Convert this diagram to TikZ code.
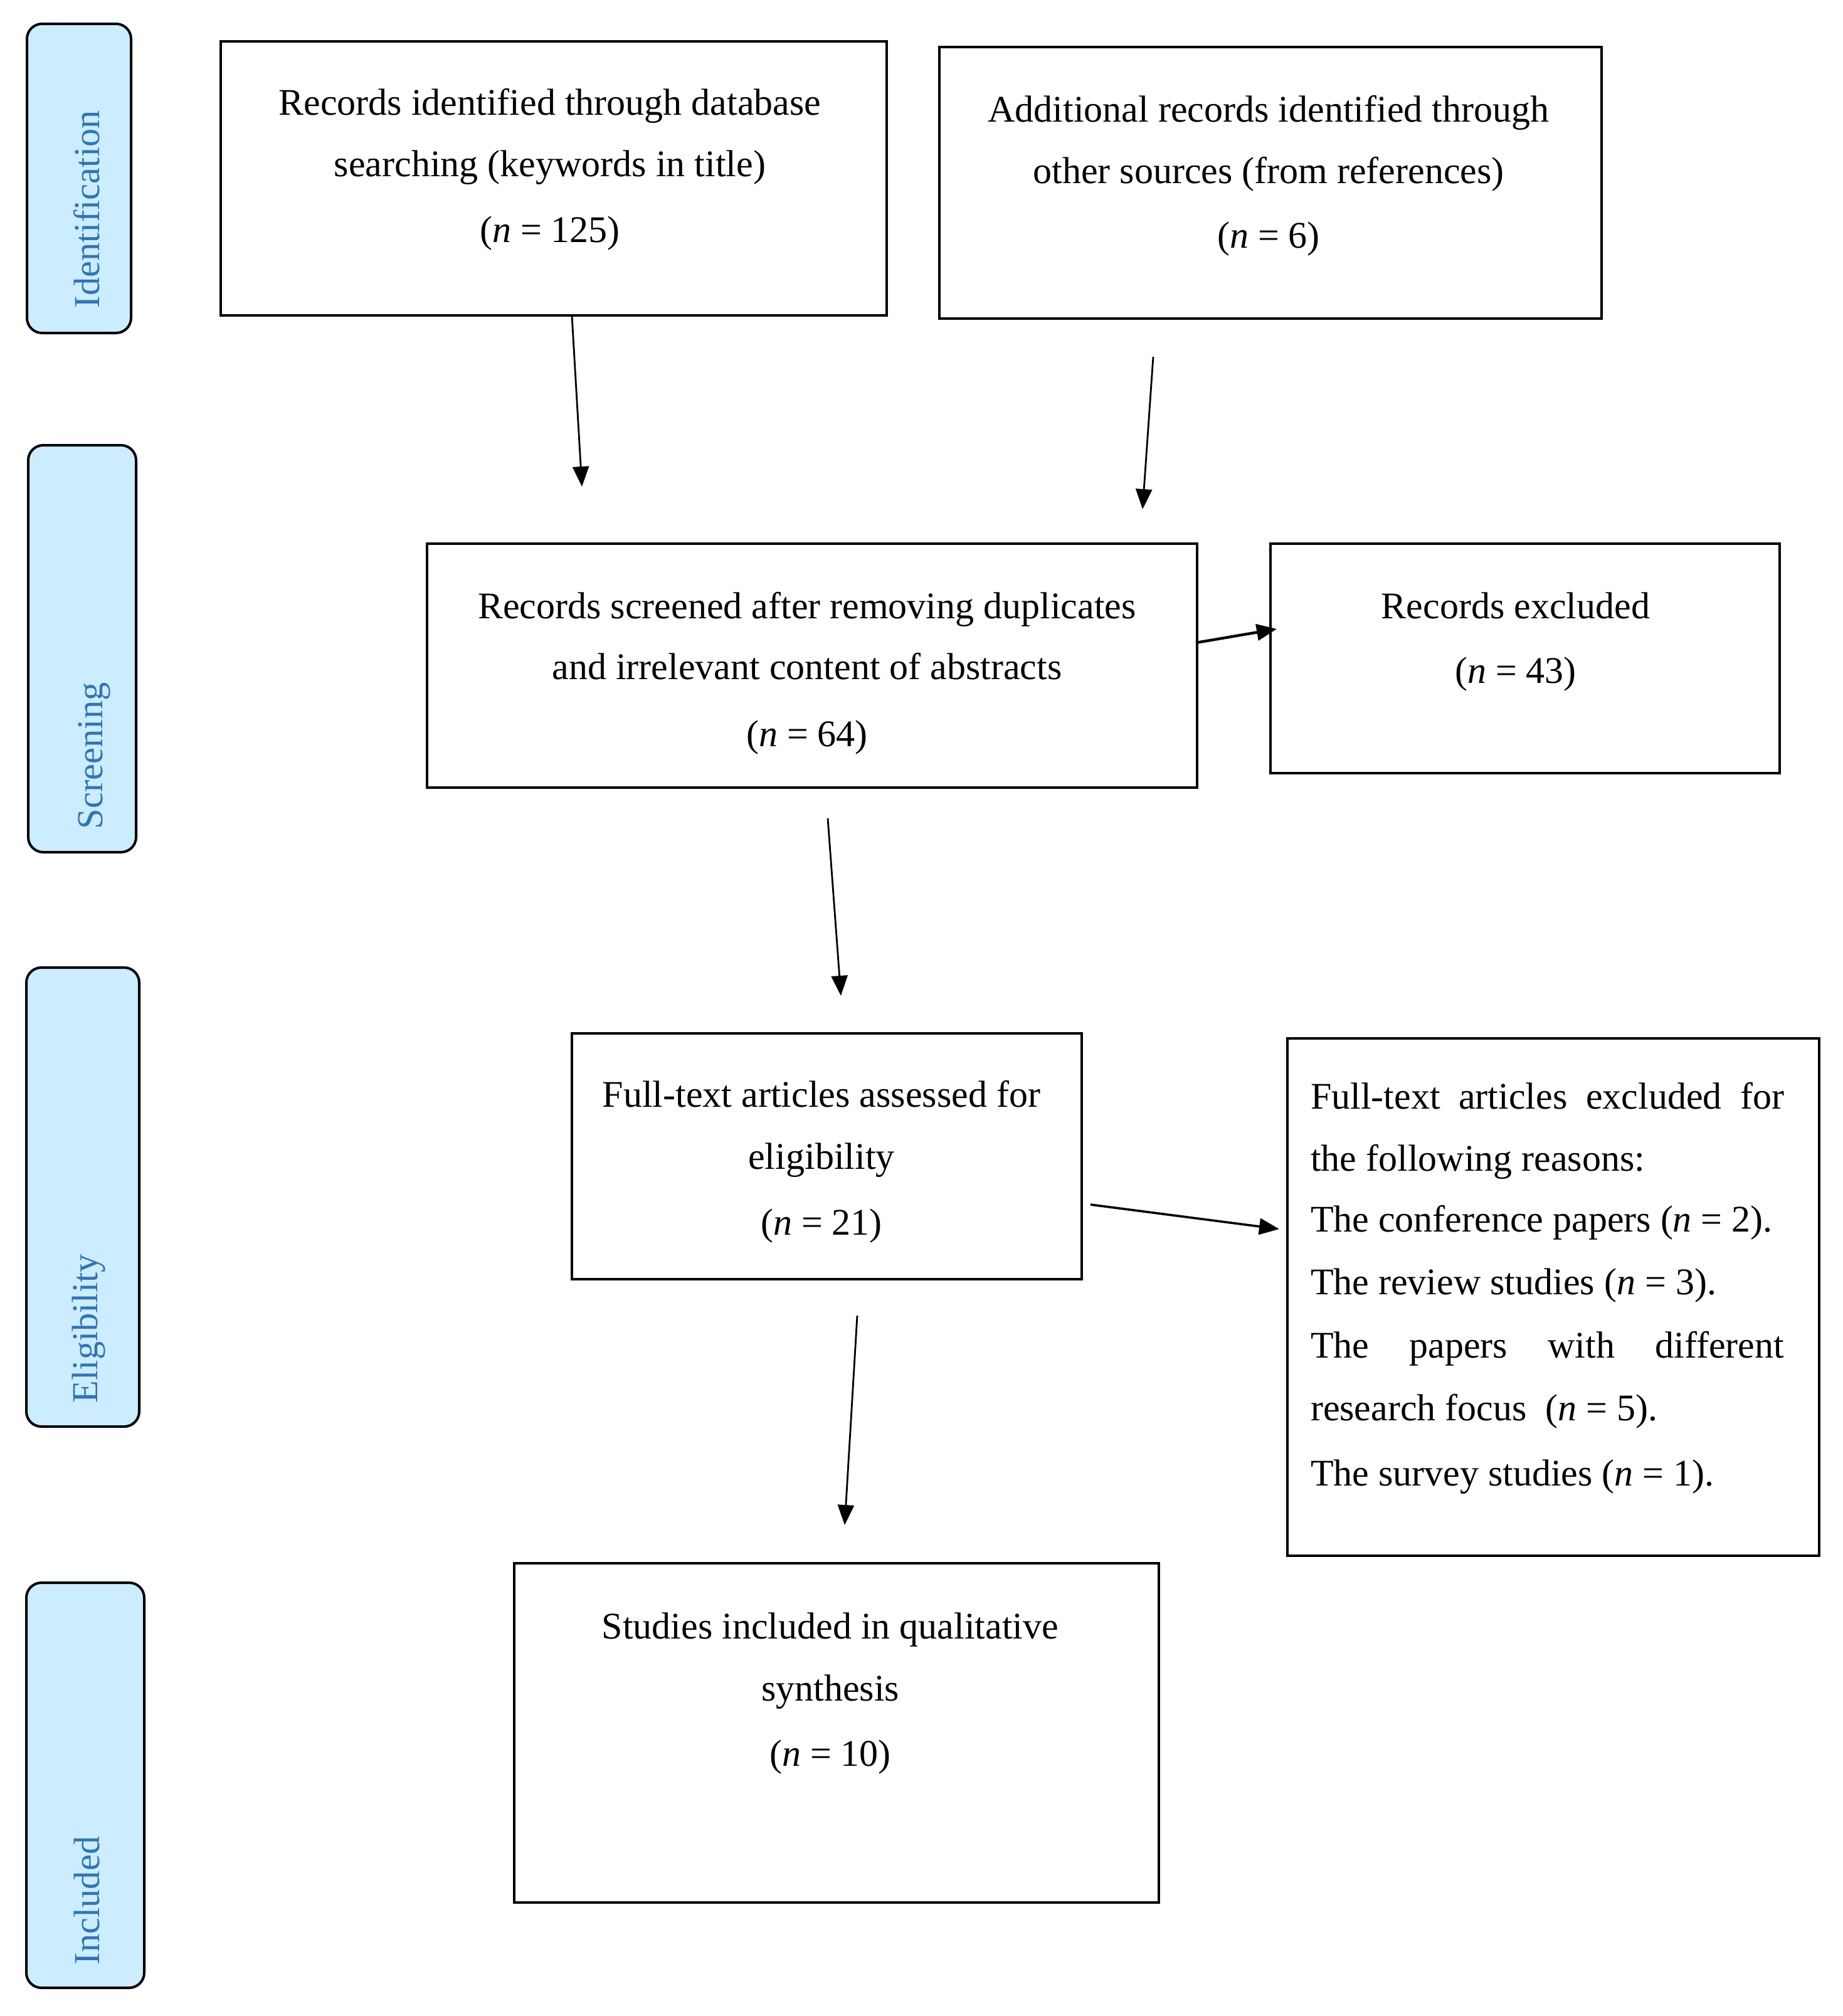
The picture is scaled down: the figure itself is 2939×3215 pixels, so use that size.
\documentclass[tikz,border=0pt]{standalone}
\usepackage{fontspec}
\setmainfont{Liberation Serif}
\usetikzlibrary{fit,arrows.meta}
\definecolor{tabfill}{HTML}{CCECFF}
\definecolor{tabtext}{HTML}{2E75B6}
\tikzset{
  box/.style={draw=black, line width=0.95pt, inner sep=0pt, outer sep=0pt},
  tab/.style={draw=black, fill=tabfill, line width=1pt, rounded corners=6pt, inner sep=0pt, outer sep=0pt},
  txt/.style={inner sep=0pt, outer sep=0pt, font=\fontsize{15}{18}\selectfont, anchor=base},
  ltxt/.style={txt, anchor=base west},
  tabtxt/.style={inner sep=0pt, outer sep=0pt, font=\fontsize{14.6}{17}\selectfont, text=tabtext, rotate=90, anchor=base west},
  arr/.style={line width=0.7pt, -{Triangle[length=8pt,width=6.5pt]}}
}
\newcommand{\nn}{\textit{n}}
\begin{document}
\begin{tikzpicture}[x=0.25pt,y=-0.25pt]
\useasboundingbox (0,0) rectangle (2939,3215);

% stage tabs
\node[tab, fit={(43,38) (209,531)}] (t1) {};
\node[tab, fit={(45,710) (217,1359)}] (t2) {};
\node[tab, fit={(42,1543) (222,2275)}] (t3) {};
\node[tab, fit={(42,2524) (230,3170)}] (t4) {};
\node[tabtxt] (t1l) at (158,491) {Identification};
\node[tabtxt] (t2l) at (163,1322) {Screening};
\node[tabtxt] (t3l) at (155,2237) {Eligibility};
\node[tabtxt] (t4l) at (158,3133) {Included};

% boxes
\node[box, fit={(352,66) (1414,503)}] (b1) {};
\node[box, fit={(1498,75) (2554,508)}] (b2) {};
\node[box, fit={(681,867) (1909,1256)}] (b3) {};
\node[box, fit={(2026,867) (2838,1233)}] (b4) {};
\node[box, fit={(912,1648) (1725,2040)}] (b5) {};
\node[box, fit={(2053,1656) (2901,2481)}] (b6) {};
\node[box, fit={(820,2493) (1848,3034)}] (b7) {};

% box texts
\node[txt] (b1a) at (877,183) {Records identified through database};
\node[txt] (b1b) at (877,281) {searching (keywords in title)};
\node[txt] (b1c) at (877,386) {(\nn{} = 125)};

\node[txt] (b2a) at (2023,194) {Additional records identified through};
\node[txt] (b2b) at (2023,292) {other sources (from references)};
\node[txt] (b2c) at (2023,395) {(\nn{} = 6)};

\node[txt] (b3a) at (1287,986) {Records screened after removing duplicates};
\node[txt] (b3b) at (1287,1083) {and irrelevant content of abstracts};
\node[txt] (b3c) at (1287,1190) {(\nn{} = 64)};

\node[txt] (b4a) at (2417,986) {Records excluded};
\node[txt] (b4b) at (2417,1089) {(\nn{} = 43)};

\node[txt] (b5a) at (1310,1765) {Full-text articles assessed for};
\node[txt] (b5b) at (1310,1864) {eligibility};
\node[txt] (b5c) at (1310,1969) {(\nn{} = 21)};

\node[ltxt] (b6a) at (2090,1768) {\makebox[188.75pt][s]{Full-text articles excluded for}};
\node[ltxt] (b6b) at (2090,1867) {the following reasons:};
\node[ltxt] (b6c) at (2090,1964) {The conference papers (\nn{} = 2).};
\node[ltxt] (b6d) at (2090,2064) {The review studies (\nn{} = 3).};
\node[ltxt] (b6e) at (2090,2165) {\makebox[188.75pt][s]{The papers with different}};
\node[ltxt] (b6f) at (2090,2265) {research focus~ (\nn{} = 5).};
\node[ltxt] (b6g) at (2090,2369) {The survey studies (\nn{} = 1).};

\node[txt] (b7a) at (1324,2613) {Studies included in qualitative};
\node[txt] (b7b) at (1324,2712) {synthesis};
\node[txt] (b7c) at (1324,2816) {(\nn{} = 10)};

% arrow end points
\coordinate (a1s) at (912,503);
\coordinate (a1e) at (928,776);
\coordinate (a2s) at (1839,569);
\coordinate (a2e) at (1822,812);
\coordinate (a3s) at (1907,1025);
\coordinate (a3e) at (2036,1003);
\coordinate (a4s) at (1320,1305);
\coordinate (a4e) at (1341,1588);
\coordinate (a5s) at (1739,1921);
\coordinate (a5e) at (2040,1960);
\coordinate (a6s) at (1367,2098);
\coordinate (a6e) at (1347,2432);

\draw[arr] (a1s) -- (a1e);
\draw[arr] (a2s) -- (a2e);
\draw[arr, line width=1.1pt] (a3s) -- (a3e);
\draw[arr] (a4s) -- (a4e);
\draw[arr, line width=0.9pt] (a5s) -- (a5e);
\draw[arr] (a6s) -- (a6e);
\end{tikzpicture}
\end{document}
